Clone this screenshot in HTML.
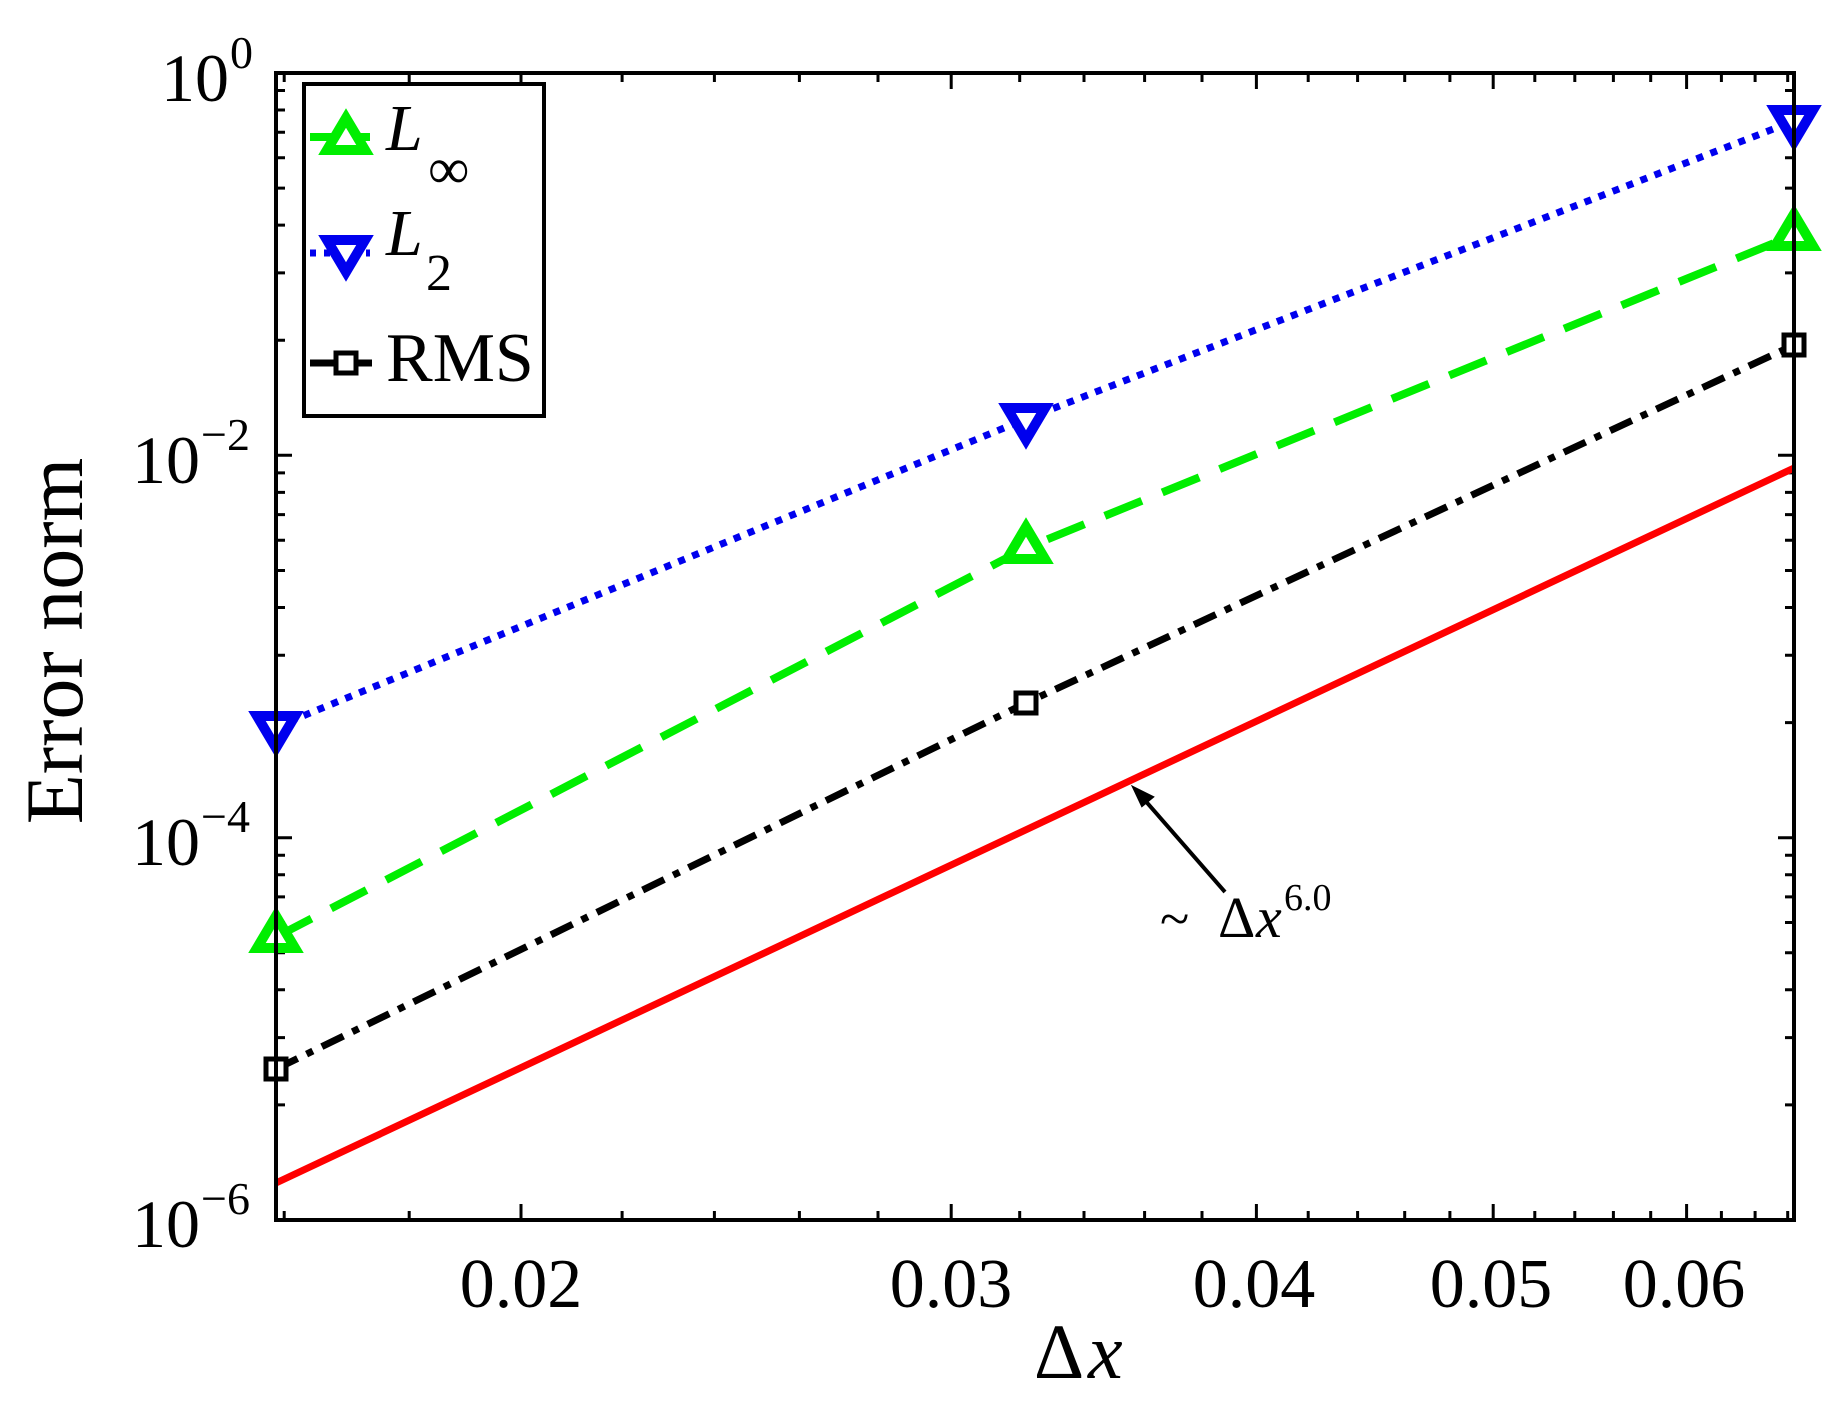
<!DOCTYPE html>
<html><head><meta charset="utf-8"><style>
html,body{margin:0;padding:0;background:#fff;}
svg{display:block;}
text{font-family:"Liberation Serif",serif;fill:#000;}
</style></head><body>
<svg width="1836" height="1413" viewBox="0 0 1836 1413" xmlns="http://www.w3.org/2000/svg">
<defs>
<clipPath id="pc"><rect x="276" y="73" width="1518" height="1147"/></clipPath>
</defs>
<g stroke="#000" stroke-width="3" fill="none">
<path d="M276,73h16M276,455.3h16M276,837.7h16M276,1220h16M1794,73h-16M1794,455.3h-16M1794,837.7h-16M1794,1220h-16"/>
<path d="M276,340.2h9M276,272.9h9M276,225.1h9M276,188.1h9M276,157.8h9M276,132.2h9M276,110h9M276,90.5h9
M276,722.6h9M276,655.3h9M276,607.5h9M276,570.5h9M276,540.2h9M276,514.6h9M276,492.4h9M276,472.9h9
M276,1104.9h9M276,1037.6h9M276,989.8h9M276,952.8h9M276,922.5h9M276,896.9h9M276,874.7h9M276,855.2h9
M1794,340.2h-9M1794,272.9h-9M1794,225.1h-9M1794,188.1h-9M1794,157.8h-9M1794,132.2h-9M1794,110h-9M1794,90.5h-9
M1794,722.6h-9M1794,655.3h-9M1794,607.5h-9M1794,570.5h-9M1794,540.2h-9M1794,514.6h-9M1794,492.4h-9M1794,472.9h-9
M1794,1104.9h-9M1794,1037.6h-9M1794,989.8h-9M1794,952.8h-9M1794,922.5h-9M1794,896.9h-9M1794,874.7h-9M1794,855.2h-9"/>
<path d="M521,1220v-16M951.2,1220v-16M1256.4,1220v-16M1493.2,1220v-16M1686.6,1220v-16
M521,73v16M951.2,73v16M1256.4,73v16M1493.2,73v16M1686.6,73v16"/>
<path d="M284.2,1220v-9M409.2,1220v-9M622.1,1220v-9M714.4,1220v-9M799.4,1220v-9M878,1220v-9M1019.7,1220v-9M1084,1220v-9M1144.6,1220v-9M1202,1220v-9M1308.2,1220v-9M1357.6,1220v-9M1404.7,1220v-9M1449.9,1220v-9M1534.8,1220v-9M1574.8,1220v-9M1613.4,1220v-9M1650.7,1220v-9M1721.4,1220v-9M1755.1,1220v-9M1787.7,1220v-9
M284.2,73v9M409.2,73v9M622.1,73v9M714.4,73v9M799.4,73v9M878,73v9M1019.7,73v9M1084,73v9M1144.6,73v9M1202,73v9M1308.2,73v9M1357.6,73v9M1404.7,73v9M1449.9,73v9M1534.8,73v9M1574.8,73v9M1613.4,73v9M1650.7,73v9M1721.4,73v9M1755.1,73v9M1787.7,73v9"/>
</g>
<g clip-path="url(#pc)" fill="none" stroke-linecap="butt">
  <line x1="276" y1="1183" x2="1794" y2="468" stroke="#ff0000" stroke-width="7"/>
  <polyline points="276,1069 1026,703 1794,345" stroke="#000" stroke-width="7" stroke-dasharray="24 10 7 10"/>
  <polyline points="276,937 1026,548 1794,235" stroke="#00ee00" stroke-width="8" stroke-dasharray="40 22"/>
  <polyline points="276,727 1026,419 1794,121" stroke="#0000ee" stroke-width="7" stroke-dasharray="7 8"/>
</g>
<g fill="#fff" stroke-width="10" stroke-linejoin="miter">
  <path d="M276,748 L295,716 L257,716 Z" stroke="#0000ee"/>
  <path d="M1026,440 L1045,408 L1007,408 Z" stroke="#0000ee"/>
  <path d="M1794,142 L1813,110 L1775,110 Z" stroke="#0000ee"/>
  <path d="M276,916 L295,948 L257,948 Z" stroke="#00ee00"/>
  <path d="M1026,527 L1045,559 L1007,559 Z" stroke="#00ee00"/>
  <path d="M1794,214 L1813,246 L1775,246 Z" stroke="#00ee00"/>
</g>
<g fill="#fff" stroke="#000" stroke-width="5">
  <rect x="266" y="1059" width="20" height="20"/>
  <rect x="1016" y="693" width="20" height="20"/>
  <rect x="1784" y="335" width="20" height="20"/>
</g>
<rect x="276" y="73" width="1518" height="1147" fill="none" stroke="#000" stroke-width="4"/>
<!-- legend -->
<rect x="304" y="84" width="240" height="332" fill="#fff" stroke="#000" stroke-width="4"/>
<line x1="310" y1="137" x2="370" y2="137" stroke="#00ee00" stroke-width="8"/>
<line x1="310" y1="253" x2="370" y2="253" stroke="#0000ee" stroke-width="7" stroke-dasharray="6 8"/>
<line x1="310" y1="363" x2="372" y2="363" stroke="#000" stroke-width="7"/>
<path d="M346,118 L365,150 L327,150 Z" fill="#fff" stroke="#00ee00" stroke-width="10"/>
<path d="M346,272 L365,240 L327,240 Z" fill="#fff" stroke="#0000ee" stroke-width="10"/>
<rect x="336" y="353" width="20" height="20" fill="#fff" stroke="#000" stroke-width="5"/>
<text x="386" y="150" font-size="66" font-style="italic">L</text>
<text x="428" y="188" font-size="58">∞</text>
<text x="386" y="255" font-size="66" font-style="italic">L</text>
<text x="426" y="290" font-size="52">2</text>
<text x="386" y="381" font-size="70">RMS</text>
<!-- y tick labels -->
<text x="229" y="101" font-size="68" text-anchor="end">10</text><text x="230" y="68" font-size="46">0</text>
<text x="200" y="483" font-size="68" text-anchor="end">10</text><text x="201" y="450" font-size="46">−2</text>
<text x="200" y="865" font-size="68" text-anchor="end">10</text><text x="201" y="832" font-size="46">−4</text>
<text x="200" y="1247" font-size="68" text-anchor="end">10</text><text x="201" y="1214" font-size="46">−6</text>
<!-- x tick labels -->
<text x="521" y="1307" font-size="70" text-anchor="middle">0.02</text>
<text x="951" y="1307" font-size="70" text-anchor="middle">0.03</text>
<text x="1254" y="1307" font-size="70" text-anchor="middle">0.04</text>
<text x="1491" y="1307" font-size="70" text-anchor="middle">0.05</text>
<text x="1684" y="1307" font-size="70" text-anchor="middle">0.06</text>
<text x="1034" y="1378" font-size="78">Δ</text><text x="1088" y="1378" font-size="78" font-style="italic">x</text>
<text transform="translate(82,641) rotate(-90)" font-size="82" text-anchor="middle">Error norm</text>
<!-- annotation -->
<line x1="1225" y1="892" x2="1142" y2="797" stroke="#000" stroke-width="4"/>
<path d="M1133,787 L1153,797 L1142,806 Z" fill="#000" stroke="#000" stroke-width="2"/>
<text x="1160" y="937" font-size="54">~</text>
<text x="1218" y="937" font-size="58">Δ</text>
<text x="1256" y="937" font-size="58" font-style="italic">x</text>
<text x="1284" y="910" font-size="38">6.0</text>
</svg>
</body></html>
